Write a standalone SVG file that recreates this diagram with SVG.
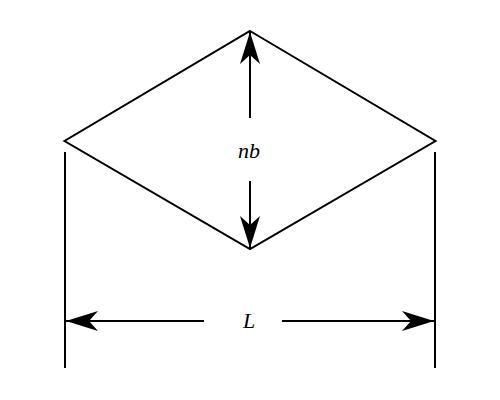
<svg xmlns="http://www.w3.org/2000/svg" width="500" height="400" viewBox="0 0 500 400">
<style>
.ln{stroke:#000;stroke-width:2;fill:none}
.lbl{font-family:"Liberation Serif","DejaVu Serif",serif;font-style:italic;font-size:22px;fill:#000;text-anchor:middle}
</style>
<defs>
<marker id="ah" viewBox="0 0 32 20" refX="32" refY="10" markerWidth="32" markerHeight="20" markerUnits="userSpaceOnUse" orient="auto">
<path d="M32,10 L0,0 L9,10 L0,20 Z" fill="#000"/>
</marker>
</defs>
<rect width="500" height="400" fill="#fff"/>
<g id="diamond">
<polygon class="ln" points="250,31 435.5,141 250,249 64.5,141"/>
</g>
<g id="extension-lines">
<line class="ln" x1="65" y1="152" x2="65" y2="368"/>
<line class="ln" x1="435" y1="152" x2="435" y2="368"/>
</g>
<g id="connectors">
<line class="ln" x1="250" y1="118" x2="250" y2="32" marker-end="url(#ah)"/>
<line class="ln" x1="250" y1="181" x2="250" y2="248" marker-end="url(#ah)"/>
<line class="ln" x1="204" y1="321" x2="66" y2="321" marker-end="url(#ah)"/>
<line class="ln" x1="282" y1="321" x2="434" y2="321" marker-end="url(#ah)"/>
</g>
<g id="label-nb"><text class="lbl" x="249" y="158">nb</text></g>
<g id="label-L"><text class="lbl" x="249" y="328">L</text></g>
</svg>
